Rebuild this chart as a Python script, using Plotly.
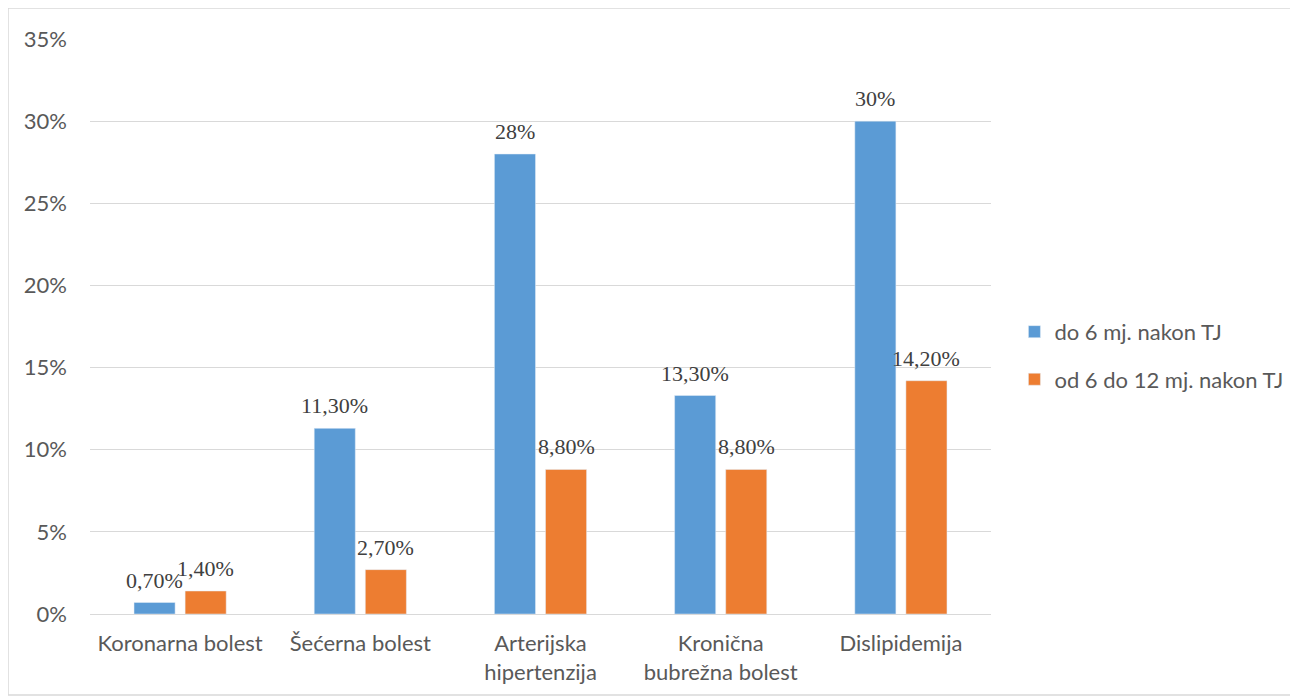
import plotly.graph_objects as go

categories = ["Koronarna bolest", "Šećerna bolest", "Arterijska<br>hipertenzija",
              "Kronična<br>bubrežna bolest", "Dislipidemija"]
series_names = ["do 6 mj. nakon TJ", "od 6 do 12 mj. nakon TJ"]
values_6 = [0.007, 0.113, 0.28, 0.133, 0.30]
values_12 = [0.014, 0.027, 0.088, 0.088, 0.142]
labels_6 = ["0,70%", "11,30%", "28%", "13,30%", "30%"]
labels_12 = ["1,40%", "2,70%", "8,80%", "8,80%", "14,20%"]
y_ticks = [0, 0.05, 0.10, 0.15, 0.20, 0.25, 0.30, 0.35]

colors = ["#5B9BD5", "#ED7D31"]
label_font = dict(family="Liberation Serif", size=22, color="#404040")
axis_font = dict(family="Lato", size=22, color="#595959")

W, H = 1290, 691
ML, MR, MT, MB = 82, 307, 31, 85
BARGAP, GROUPGAP = 0.433, 0.196
plot_w = W - ML - MR
slot = plot_w / len(categories) * (1 - BARGAP) / 2

fig = go.Figure()
series = [
    (series_names[0], values_6, labels_6, colors[0], "a", -slot / 2),
    (series_names[1], values_12, labels_12, colors[1], "b", slot / 2),
]
for name, vals, labs, col, grp, shift in series:
    fig.add_trace(go.Bar(
        x=categories, y=vals, name=name, marker_color=col,
        legendgroup=grp, hoverinfo="x+y",
    ))
    for c, v, t in zip(categories, vals, labs):
        fig.add_annotation(x=c, y=v, text=t, showarrow=False,
                           xref="x", yref="y", xshift=shift, yshift=8,
                           yanchor="bottom", font=label_font)

fig.update_layout(
    width=W, height=H,
    margin=dict(l=ML, r=MR, t=MT, b=MB, autoexpand=False),
    paper_bgcolor="white", plot_bgcolor="white",
    barmode="group", bargap=BARGAP, bargroupgap=GROUPGAP,
    font=axis_font,
    showlegend=True,
    legend=dict(x=1.026, y=0.449, yanchor="middle", xanchor="left",
                font=axis_font,
                traceorder="grouped", tracegroupgap=16,
                itemwidth=30),
)
fig.update_yaxes(range=[0, 0.35], tickvals=y_ticks, tickformat=".0%",
                 showgrid=True, gridcolor="#D9D9D9", gridwidth=1,
                 zeroline=False, showline=False, ticks="",
                 ticklabelstandoff=22, tickfont=axis_font)
fig.update_xaxes(showline=True, linecolor="#D9D9D9", linewidth=1, ticks="",
                 ticklabelstandoff=10, tickfont=axis_font)

fig.add_shape(type="rect", xref="paper", yref="paper",
              x0=-0.091, x1=1.337, y0=-0.141, y1=1.054,
              line=dict(color="#D9D9D9", width=1.5), layer="below")

fig.write_html("out.html")
